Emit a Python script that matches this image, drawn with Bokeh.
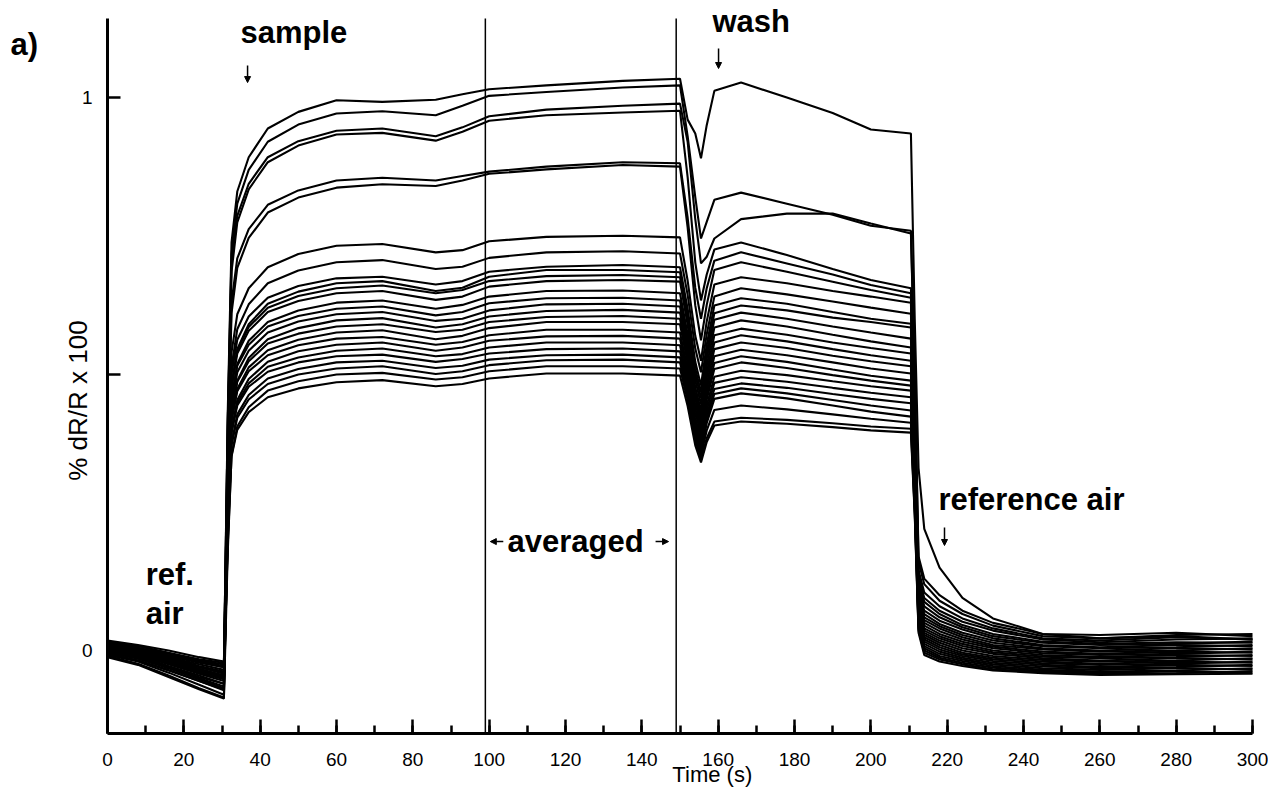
from bokeh.plotting import figure
from bokeh.models import (Range1d, SingleIntervalTicker, FixedTicker, Label, Arrow,
                          NormalHead, LinearAxis)
from bokeh.embed import file_html
from bokeh.resources import INLINE

# ---------------- data ----------------
# sample times (s) at which each sensor trace was read
times = [0, 8, 16, 24, 30.5,
         31.5, 32.5, 34, 37, 42, 50,
         60, 72, 86, 93, 100, 115, 135, 150,
         152, 154, 155.5, 157, 159, 166, 178, 190, 200, 210.5,
         211.5, 212.5, 214, 218, 224, 232, 245, 260, 280, 300]

# % dR/R x 100 for each sensor (values in units of the y axis)
s01 = [0.010, 0.000, -0.012, -0.025, -0.035, 0.429, 0.738, 0.830, 0.892, 0.944, 0.974,
       0.995, 0.992, 0.996, 1.006, 1.015, 1.022, 1.030, 1.034,
       0.960, 0.935, 0.890, 0.950, 1.012, 1.027, 1.000, 0.972, 0.942, 0.935,
       0.600, 0.330, 0.220, 0.150, 0.095, 0.058, 0.030, 0.022, 0.026, 0.020]
s02 = [0.005, -0.005, -0.020, -0.035, -0.045, 0.412, 0.717, 0.808, 0.869, 0.920, 0.951,
       0.971, 0.975, 0.968, 0.985, 1.003, 1.010, 1.018, 1.022,
       0.930, 0.820, 0.745, 0.775, 0.815, 0.828, 0.808, 0.788, 0.768, 0.759,
       0.500, 0.170, 0.130, 0.100, 0.072, 0.050, 0.030, 0.028, 0.032, 0.026]
s03 = [0.015, 0.008, -0.005, -0.018, -0.025, 0.409, 0.699, 0.786, 0.844, 0.892, 0.921,
       0.940, 0.944, 0.930, 0.946, 0.966, 0.978, 0.985, 0.989,
       0.920, 0.780, 0.700, 0.712, 0.745, 0.780, 0.790, 0.790, 0.772, 0.754,
       0.490, 0.160, 0.120, 0.090, 0.066, 0.045, 0.026, 0.022, 0.028, 0.030]
s04 = [0.000, -0.010, -0.028, -0.045, -0.060, 0.387, 0.685, 0.774, 0.834, 0.883, 0.913,
       0.933, 0.936, 0.922, 0.938, 0.958, 0.968, 0.973, 0.976,
       0.856, 0.702, 0.633, 0.680, 0.725, 0.738, 0.715, 0.690, 0.670, 0.655,
       0.430, 0.145, 0.105, 0.080, 0.058, 0.040, 0.022, 0.018, 0.024, 0.020]
s05 = [0.012, 0.003, -0.010, -0.022, -0.030, 0.366, 0.630, 0.709, 0.762, 0.806, 0.832,
       0.850, 0.855, 0.850, 0.858, 0.866, 0.875, 0.883, 0.881,
       0.783, 0.656, 0.600, 0.655, 0.705, 0.720, 0.700, 0.680, 0.661, 0.646,
       0.420, 0.135, 0.095, 0.072, 0.052, 0.036, 0.020, 0.015, 0.020, 0.022]
s06 = [-0.005, -0.018, -0.035, -0.055, -0.070, 0.338, 0.610, 0.692, 0.746, 0.792, 0.819,
       0.837, 0.843, 0.840, 0.850, 0.862, 0.870, 0.878, 0.875,
       0.765, 0.624, 0.561, 0.625, 0.688, 0.702, 0.685, 0.667, 0.652, 0.638,
       0.410, 0.128, 0.088, 0.066, 0.046, 0.030, 0.016, 0.012, 0.015, 0.014]
s07 = [0.008, 0.000, -0.015, -0.030, -0.040, 0.307, 0.539, 0.608, 0.655, 0.693, 0.717,
       0.732, 0.735, 0.720, 0.724, 0.740, 0.748, 0.750, 0.747,
       0.669, 0.569, 0.524, 0.595, 0.662, 0.675, 0.664, 0.650, 0.640, 0.629,
       0.400, 0.120, 0.080, 0.060, 0.042, 0.026, 0.014, 0.010, 0.012, 0.016]
s08 = [0.002, -0.008, -0.025, -0.042, -0.055, 0.286, 0.513, 0.581, 0.626, 0.664, 0.687,
       0.702, 0.706, 0.690, 0.694, 0.710, 0.720, 0.722, 0.718,
       0.643, 0.546, 0.503, 0.572, 0.640, 0.655, 0.644, 0.631, 0.620, 0.609,
       0.390, 0.112, 0.072, 0.054, 0.038, 0.022, 0.010, 0.006, 0.010, 0.008]
s09 = [0.018, 0.010, 0.000, -0.012, -0.020, 0.292, 0.500, 0.562, 0.604, 0.638, 0.659,
       0.673, 0.676, 0.662, 0.668, 0.685, 0.694, 0.697, 0.693,
       0.618, 0.522, 0.479, 0.553, 0.624, 0.637, 0.627, 0.612, 0.600, 0.591,
       0.380, 0.106, 0.066, 0.048, 0.032, 0.018, 0.008, 0.004, 0.006, 0.010]
s10 = [-0.008, -0.020, -0.040, -0.062, -0.080, 0.255, 0.478, 0.545, 0.590, 0.627, 0.649,
       0.664, 0.668, 0.650, 0.656, 0.676, 0.688, 0.688, 0.684,
       0.608, 0.510, 0.467, 0.540, 0.610, 0.624, 0.615, 0.602, 0.594, 0.584,
       0.370, 0.100, 0.060, 0.044, 0.028, 0.014, 0.004, 0.000, 0.004, 0.002]
s11 = [0.006, -0.004, -0.018, -0.033, -0.045, 0.270, 0.480, 0.543, 0.585, 0.620, 0.641,
       0.655, 0.660, 0.646, 0.652, 0.668, 0.677, 0.679, 0.675,
       0.598, 0.500, 0.456, 0.528, 0.598, 0.611, 0.600, 0.586, 0.575, 0.564,
       0.360, 0.095, 0.055, 0.040, 0.024, 0.010, 0.002, -0.002, 0.000, 0.004]
s12 = [0.010, 0.002, -0.012, -0.028, -0.038, 0.270, 0.475, 0.537, 0.578, 0.612, 0.632,
       0.646, 0.650, 0.634, 0.640, 0.658, 0.668, 0.670, 0.667,
       0.589, 0.489, 0.445, 0.515, 0.584, 0.597, 0.586, 0.571, 0.559, 0.548,
       0.350, 0.090, 0.050, 0.035, 0.020, 0.007, -0.002, -0.006, -0.002, -0.004]
s13 = [-0.002, -0.014, -0.030, -0.050, -0.065, 0.247, 0.456, 0.518, 0.560, 0.594, 0.615,
       0.629, 0.633, 0.618, 0.625, 0.640, 0.650, 0.651, 0.646,
       0.572, 0.476, 0.434, 0.503, 0.570, 0.582, 0.571, 0.557, 0.547, 0.537,
       0.340, 0.085, 0.045, 0.030, 0.016, 0.004, -0.005, -0.008, -0.006, -0.002]
s14 = [0.014, 0.005, -0.008, -0.020, -0.028, 0.263, 0.457, 0.515, 0.553, 0.586, 0.605,
       0.618, 0.622, 0.606, 0.612, 0.628, 0.637, 0.638, 0.633,
       0.560, 0.467, 0.425, 0.493, 0.557, 0.570, 0.559, 0.545, 0.534, 0.524,
       0.330, 0.080, 0.040, 0.026, 0.012, 0.000, -0.008, -0.012, -0.008, -0.010]
s15 = [0.004, -0.006, -0.022, -0.038, -0.050, 0.246, 0.444, 0.503, 0.542, 0.575, 0.595,
       0.608, 0.612, 0.596, 0.600, 0.615, 0.626, 0.627, 0.622,
       0.550, 0.457, 0.416, 0.482, 0.545, 0.557, 0.547, 0.533, 0.523, 0.514,
       0.325, 0.076, 0.036, 0.022, 0.008, -0.003, -0.011, -0.014, -0.012, -0.008]
s16 = [-0.010, -0.024, -0.045, -0.068, -0.085, 0.222, 0.427, 0.488, 0.529, 0.563, 0.583,
       0.597, 0.601, 0.584, 0.590, 0.604, 0.614, 0.616, 0.611,
       0.540, 0.448, 0.407, 0.472, 0.532, 0.544, 0.534, 0.521, 0.510, 0.501,
       0.315, 0.072, 0.032, 0.018, 0.004, -0.006, -0.014, -0.018, -0.014, -0.016]
s17 = [0.008, -0.002, -0.016, -0.030, -0.042, 0.241, 0.429, 0.486, 0.523, 0.555, 0.573,
       0.586, 0.590, 0.576, 0.580, 0.594, 0.603, 0.605, 0.600,
       0.529, 0.438, 0.398, 0.462, 0.520, 0.532, 0.522, 0.508, 0.497, 0.488,
       0.310, 0.068, 0.028, 0.014, 0.000, -0.010, -0.017, -0.020, -0.018, -0.014]
s18 = [0.000, -0.012, -0.030, -0.048, -0.060, 0.226, 0.416, 0.473, 0.512, 0.543, 0.562,
       0.575, 0.579, 0.563, 0.569, 0.583, 0.594, 0.594, 0.590,
       0.520, 0.431, 0.391, 0.454, 0.509, 0.521, 0.511, 0.498, 0.488, 0.479,
       0.300, 0.064, 0.024, 0.010, -0.004, -0.013, -0.020, -0.024, -0.020, -0.022]
s19 = [0.012, 0.004, -0.006, -0.020, -0.030, 0.237, 0.416, 0.469, 0.505, 0.534, 0.552,
       0.564, 0.567, 0.553, 0.558, 0.570, 0.580, 0.580, 0.575,
       0.508, 0.421, 0.383, 0.443, 0.495, 0.506, 0.498, 0.487, 0.478, 0.470,
       0.295, 0.060, 0.020, 0.006, -0.007, -0.016, -0.023, -0.026, -0.024, -0.020]
s20 = [-0.006, -0.018, -0.036, -0.055, -0.072, 0.209, 0.397, 0.453, 0.491, 0.522, 0.541,
       0.553, 0.557, 0.542, 0.548, 0.560, 0.568, 0.569, 0.564,
       0.498, 0.414, 0.376, 0.434, 0.484, 0.494, 0.486, 0.475, 0.466, 0.458,
       0.290, 0.056, 0.016, 0.002, -0.010, -0.019, -0.026, -0.030, -0.026, -0.028]
s21 = [0.005, -0.005, -0.020, -0.036, -0.048, 0.218, 0.395, 0.448, 0.483, 0.513, 0.530,
       0.542, 0.546, 0.532, 0.536, 0.548, 0.557, 0.557, 0.552,
       0.488, 0.406, 0.369, 0.426, 0.473, 0.483, 0.475, 0.464, 0.455, 0.447,
       0.280, 0.052, 0.012, -0.002, -0.013, -0.022, -0.029, -0.032, -0.030, -0.026]
s22 = [0.016, 0.008, -0.004, -0.016, -0.022, 0.227, 0.394, 0.443, 0.477, 0.504, 0.521,
       0.532, 0.535, 0.522, 0.527, 0.537, 0.545, 0.546, 0.541,
       0.479, 0.399, 0.363, 0.418, 0.464, 0.474, 0.465, 0.453, 0.443, 0.434,
       0.270, 0.048, 0.008, -0.006, -0.016, -0.025, -0.032, -0.035, -0.032, -0.034]
s23 = [-0.003, -0.015, -0.032, -0.052, -0.068, 0.197, 0.374, 0.427, 0.462, 0.492, 0.509,
       0.521, 0.524, 0.511, 0.515, 0.526, 0.534, 0.535, 0.530,
       0.470, 0.392, 0.358, 0.411, 0.455, 0.465, 0.456, 0.443, 0.432, 0.423,
       0.265, 0.044, 0.004, -0.010, -0.019, -0.028, -0.035, -0.038, -0.036, -0.032]
s24 = [0.007, -0.003, -0.018, -0.034, -0.046, 0.204, 0.371, 0.421, 0.454, 0.482, 0.499,
       0.510, 0.514, 0.500, 0.505, 0.516, 0.525, 0.526, 0.521,
       0.462, 0.387, 0.353, 0.398, 0.435, 0.443, 0.436, 0.427, 0.419, 0.412,
       0.255, 0.040, 0.000, -0.013, -0.022, -0.031, -0.037, -0.040, -0.038, -0.040]
s25 = [-0.012, -0.026, -0.048, -0.070, -0.087, 0.177, 0.353, 0.405, 0.440, 0.470, 0.487,
       0.499, 0.502, 0.490, 0.494, 0.505, 0.514, 0.514, 0.510,
       0.453, 0.380, 0.347, 0.384, 0.414, 0.421, 0.417, 0.411, 0.405, 0.401,
       0.250, 0.036, -0.004, -0.016, -0.025, -0.034, -0.039, -0.042, -0.041, -0.037]
s26 = [0.003, -0.008, -0.024, -0.040, -0.052, 0.190, 0.351, 0.399, 0.431, 0.458, 0.474,
       0.485, 0.489, 0.478, 0.482, 0.492, 0.501, 0.501, 0.497,
       0.442, 0.371, 0.340, 0.377, 0.407, 0.414, 0.410, 0.404, 0.398, 0.394,
       0.245, 0.032, -0.008, -0.020, -0.028, -0.036, -0.041, -0.044, -0.043, -0.042]

series = [s01, s02, s03, s04, s05, s06, s07, s08, s09, s10, s11, s12, s13,
          s14, s15, s16, s17, s18, s19, s20, s21, s22, s23, s24, s25, s26]

x_axis_bounds = (0, 300)
y_axis_bounds = (-0.150, 1.143)
x_tick_interval = 20
y_ticks = [0, 0.5, 1]
y_tick_labels = {0.5: ""}
avg_window = [99, 149]          # averaged-region boundaries (s)

FONT = "Liberation Sans"
W, H = 1268, 787

# ---------------- figure (frame fills the canvas; axes at fixed locations) ----------------
p = figure(width=W, height=H, output_backend="svg", toolbar_location=None,
           x_range=Range1d(-28.035, 304.19), y_range=Range1d(-0.2477, 1.1754),
           x_axis_type=None, y_axis_type=None,
           min_border_left=0, min_border_right=0, min_border_top=0, min_border_bottom=0)
p.outline_line_color = None
p.background_fill_color = "white"
p.border_fill_color = "white"

for s in series:
    p.line(times, s, line_color="black", line_width=2.1)

# averaged-region boundaries
p.segment(x0=avg_window, y0=[y_axis_bounds[0]] * 2, x1=avg_window, y1=[y_axis_bounds[1]] * 2,
          line_color="black", line_width=1.5)

# axes
xa = LinearAxis(fixed_location=y_axis_bounds[0], bounds=x_axis_bounds,
                ticker=SingleIntervalTicker(interval=x_tick_interval, num_minor_ticks=2))
xa.axis_line_width = 3
xa.major_tick_in = 14
xa.major_tick_out = 0
xa.minor_tick_in = 8
xa.minor_tick_out = 0
xa.major_tick_line_width = 2.5
xa.minor_tick_line_width = 2.5
xa.major_label_text_font = FONT
xa.major_label_text_font_size = "19px"
xa.major_label_standoff = 20
xa.major_label_text_color = "black"
p.add_layout(xa, "below")

ya = LinearAxis(fixed_location=x_axis_bounds[0], bounds=y_axis_bounds,
                ticker=FixedTicker(ticks=y_ticks, minor_ticks=[]))
ya.major_label_overrides = y_tick_labels
ya.axis_line_width = 3
ya.major_tick_in = 13
ya.major_tick_out = 0
ya.major_tick_line_width = 2.5
ya.major_label_text_font = FONT
ya.major_label_text_font_size = "19px"
ya.major_label_standoff = 15
ya.major_label_text_color = "black"
p.add_layout(ya, "left")

# axis titles
p.add_layout(Label(x=148, y=-0.2242, text="Time (s)", text_font=FONT,
                   text_font_size="22px", text_color="black", text_baseline="alphabetic"))
p.add_layout(Label(x=-7.6, y=0.307, text="% dR/R x 100", angle=90, angle_units="deg",
                   text_font=FONT, text_font_size="26px", text_color="black",
                   text_align="left", text_baseline="middle"))

# annotations
def bold(x, y, t):
    p.add_layout(Label(x=x, y=y, text=t, text_font=FONT, text_font_style="bold",
                       text_font_size="31px", text_color="black",
                       text_align="left", text_baseline="alphabetic"))

bold(-25.4, 1.0959, "a)")
bold(34.85, 1.1176, "sample")
bold(158.5, 1.1380, "wash")
bold(10.0, 0.1375, "ref.")
bold(10.0, 0.0669, "air")
bold(104.8, 0.1971, "averaged")
bold(217.7, 0.2731, "reference air")

def arrow(x0, y0, x1, y1):
    p.add_layout(Arrow(end=NormalHead(size=6, line_color="black", fill_color="black", line_width=1),
                       x_start=x0, y_start=y0, x_end=x1, y_end=y1,
                       line_color="black", line_width=1.5))

arrow(36.7, 1.058, 36.7, 1.027)
arrow(160.1, 1.0886, 160.1, 1.0524)
arrow(219.3, 0.2224, 219.3, 0.1899)
arrow(103.7, 0.197, 100.3, 0.197)
arrow(143.6, 0.197, 147.0, 0.197)

open("out.html", "w").write(file_html(p, INLINE))
